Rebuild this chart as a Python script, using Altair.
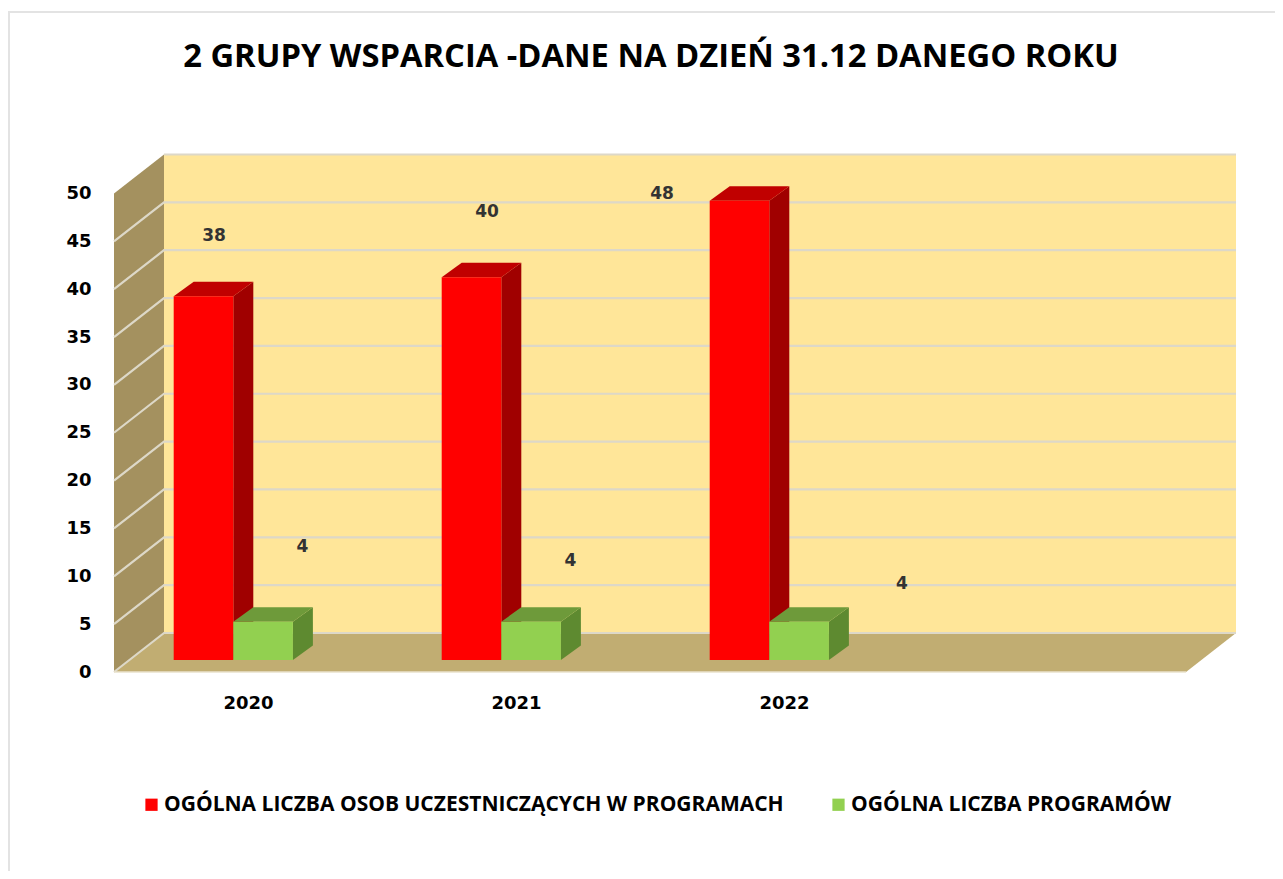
import altair as alt
import pandas as pd

# ---------- values ----------
years = [2020, 2021, 2022]
participants = [38, 40, 48]
programmes = [4, 4, 4]
series = ["OGÓLNA LICZBA OSOB UCZESTNICZĄCYCH W PROGRAMACH", "OGÓLNA LICZBA PROGRAMÓW"]
ticks = [0, 5, 10, 15, 20, 25, 30, 35, 40, 45, 50]

# ---------- layout, in scale units ----------
PX_YEAR = 268.0
PX_VAL = 9.57
W, H = 1122, 517
X0 = 2019.5
X1 = X0 + W / PX_YEAR
Y1 = H / PX_VAL
WALL_DX = 50 / PX_YEAR
WALL_DY = 39 / PX_VAL
BAR_W = 59.6 / PX_YEAR
BAR_DX = 20 / PX_YEAR
BAR_DY = 14.5 / PX_VAL
BAR_BASE = 12 / PX_VAL
BAR_SHIFT = -14.7 / PX_YEAR

# hand-moved data labels in the reference
label_x = [2019.873, 2020.892, 2021.545, 2020.203, 2021.203, 2022.44]
label_y = [45.55, 48.05, 49.95, 13.05, 11.65, 9.2]
label_text = participants + programmes

FONT_NUM = "DejaVu Sans"
FONT_TXT = "Open Sans"

X = alt.X("x:Q", scale=alt.Scale(domain=[X0, X1], nice=False, zero=False),
          axis=alt.Axis(values=years, format="d", title=None, grid=False, ticks=False, domain=False,
                        labelFont=FONT_NUM, labelFontWeight="bold", labelFontSize=18, labelColor="#000000",
                        labelPadding=22))
Y = alt.Y("y:Q", scale=alt.Scale(domain=[0, Y1], nice=False, zero=False),
          axis=alt.Axis(values=ticks, title=None, grid=False, ticks=False, domain=False,
                        labelFont=FONT_NUM, labelFontWeight="bold", labelFontSize=18, labelColor="#000000",
                        labelPadding=23))
XN = X
YN = Y


def frame(rows):
    return pd.DataFrame(rows)


# outer frame of the picture
border = alt.Chart(frame([
    {"o": 0, "x": X0 - 105 / PX_YEAR, "y": -20.8},
    {"o": 1, "x": X0 - 105 / PX_YEAR, "y": 660 / PX_VAL},
    {"o": 2, "x": X1 + 60 / PX_YEAR, "y": 660 / PX_VAL},
])).mark_line(color="#E3E3E3", strokeWidth=2, clip=False).encode(x=XN, y=YN, order="o:Q")

# walls
back = alt.Chart(frame([{"x": X0 + WALL_DX, "x2": X1, "y": WALL_DY, "y2": Y1 - 0.0}])).mark_rect(color="#FFE699").encode(
    x=X, x2="x2:Q", y=Y, y2="y2:Q")
left_wall = alt.Chart(frame([
    {"x": X0, "y": 0, "y2": 50},
    {"x": X0 + WALL_DX, "y": WALL_DY, "y2": 50 + WALL_DY},
])).mark_area(color="#A4915F").encode(x=XN, y=YN, y2="y2:Q")
floor = alt.Chart(frame([
    {"y": 0, "x": X0, "x2": X1 - WALL_DX},
    {"y": WALL_DY, "x": X0 + WALL_DX, "x2": X1},
])).mark_area(color="#C1AD72", orient="horizontal").encode(y=YN, x=XN, x2="x2:Q")

# gridlines
grid_rows = []
for t in ticks:
    if t != ticks[-1]:
        grid_rows += [
            {"t": t, "o": 0, "x": X0, "y": t},
        ]
    grid_rows += [
        {"t": t, "o": 1, "x": X0 + WALL_DX, "y": t + WALL_DY},
        {"t": t, "o": 2, "x": X1, "y": t + WALL_DY},
    ]
grid = alt.Chart(frame(grid_rows)).mark_line(color="#DDD8C8", strokeWidth=2.2).encode(
    x=XN, y=YN, detail="t:N", order="o:Q")
floor_edge = alt.Chart(frame([
    {"x": X0, "y": 0}, {"x": X1 - WALL_DX, "y": 0},
])).mark_line(color="#E8E2CC", strokeWidth=1.5).encode(x=XN, y=YN)


def bar_layers(vals, shift, name, side_col, top_col):
    front, side, top = [], [], []
    for i, (yr, v) in enumerate(zip(years, vals)):
        x0 = yr + BAR_SHIFT + shift
        x1 = x0 + BAR_W
        b = BAR_BASE
        t = BAR_BASE + v
        front.append({"x": x0, "x2": x1, "y": b, "y2": t, "s": name})
        side += [{"g": i, "x": x1, "y": b, "y2": t},
                 {"g": i, "x": x1 + BAR_DX, "y": b + BAR_DY, "y2": t + BAR_DY}]
        top += [{"g": i, "y": t, "x": x0, "x2": x1},
                {"g": i, "y": t + BAR_DY, "x": x0 + BAR_DX, "x2": x1 + BAR_DX}]
    f = alt.Chart(frame(front)).mark_bar().encode(
        x=XN, x2="x2:Q", y=YN, y2="y2:Q",
        color=alt.Color("s:N", scale=alt.Scale(domain=series, range=["#FF0000", "#92D050"]),
                        legend=alt.Legend(
                            title=None, orient="none", legendX=27, legendY=639, direction="horizontal", columns=2,
                            symbolType="square", symbolSize=150, symbolStrokeWidth=0,
                            labelFont=FONT_TXT, labelFontWeight="bold", labelFontSize=21, labelColor="#000000",
                            labelLimit=0, columnPadding=44, labelOffset=2)))
    s = alt.Chart(frame(side)).mark_area(color=side_col).encode(x=XN, y=YN, y2="y2:Q", detail="g:N")
    o = alt.Chart(frame(top)).mark_area(color=top_col, orient="horizontal").encode(
        y=YN, x=XN, x2="x2:Q", detail="g:N")
    return [s, o, f]


labels = alt.Chart(frame([{"x": a, "y": b, "t": c} for a, b, c in zip(label_x, label_y, label_text)])).mark_text(
    font=FONT_NUM, fontWeight="bold", fontSize=17, color="#333333", baseline="middle", align="center"
).encode(x=XN, y=YN, text="t:Q")

layers = [border, back, left_wall, floor, grid, floor_edge]
layers += bar_layers(participants, -BAR_W, series[0], "#A00000", "#C00000")
layers += bar_layers(programmes, 0, series[1], "#5E8A30", "#6E9A3A")
layers += [labels]

chart = alt.layer(*layers).properties(
    width=W, height=H,
    padding={"left": 106, "top": 147, "right": 39, "bottom": 199},
    autosize=alt.AutoSizeParams(type="none"),
    background="#FFFFFF",
    title=alt.TitleParams(
        "2 GRUPY WSPARCIA  -DANE NA DZIEŃ 31.12 DANEGO ROKU",
        font=FONT_TXT, fontWeight="bold", fontSize=32.7, color="#000000",
        anchor="middle", dx=-24, offset=-66,
    ),
).configure_view(stroke=None)

chart.save("out.html", embed_options={"renderer": "svg", "actions": False})
